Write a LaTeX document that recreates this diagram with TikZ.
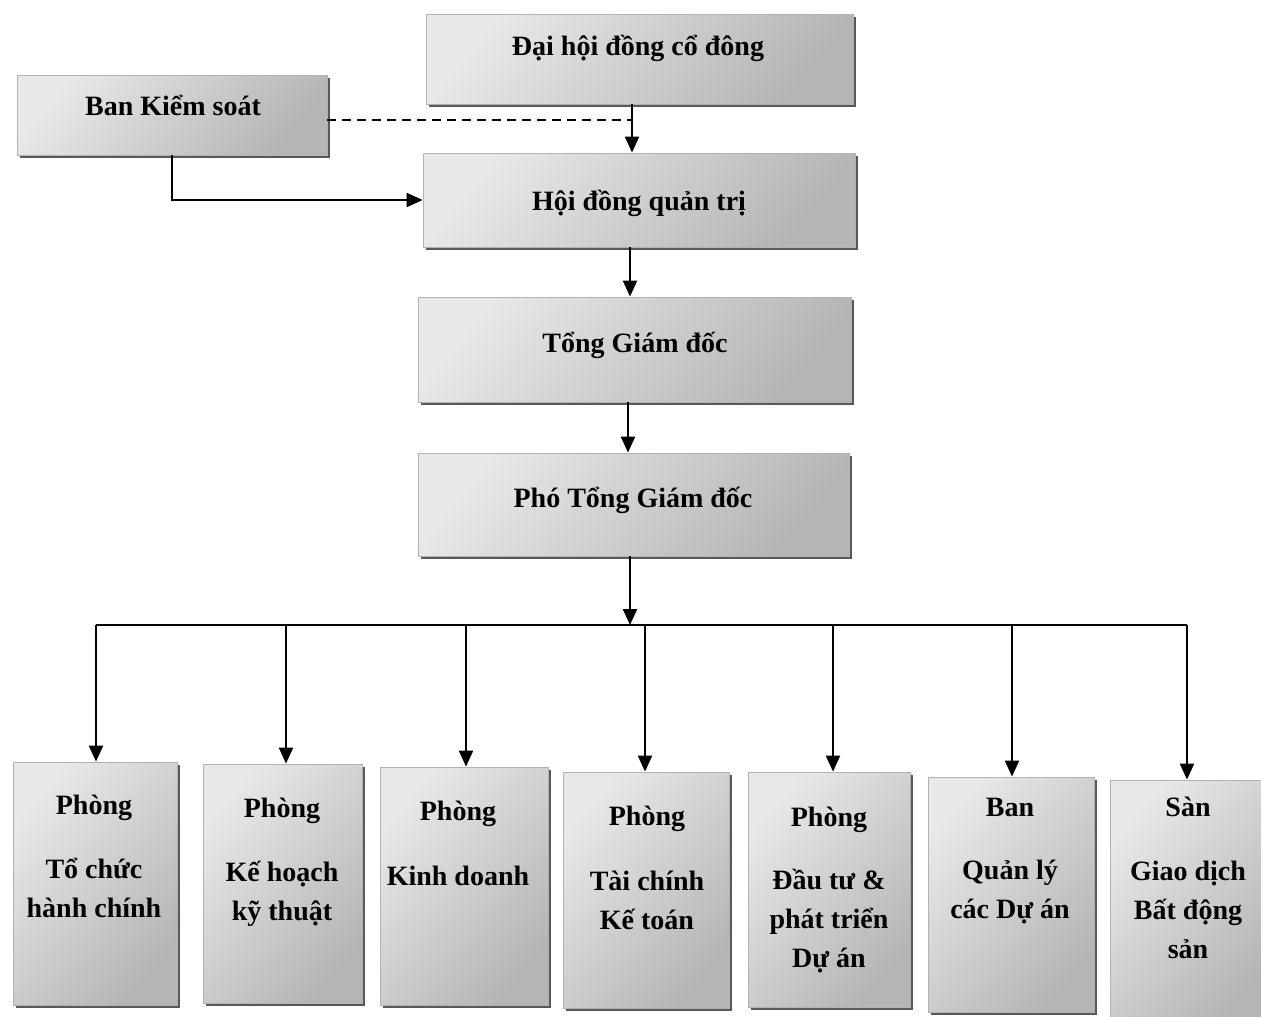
\documentclass[tikz,border=0pt]{standalone}
\usepackage{fontspec}
\setmainfont{Liberation Serif}
\usetikzlibrary{arrows.meta,shadows}
\begin{document}
\begin{tikzpicture}[x=1pt,y=1pt,
  box/.style={draw=gray!60, line width=0.8pt, top color=gray!18, bottom color=gray!58, shading angle=50,
    drop shadow={shadow xshift=3pt,shadow yshift=-3pt,fill=black!65,opacity=1}, inner sep=0pt},
  lbl/.style={font=\fontsize{28}{39}\selectfont\bfseries, align=center, anchor=base, inner sep=0pt},
  conn/.style={line width=2.2pt, black},
  arr/.style={conn, -{Triangle[width=14pt,length=16pt]}},
  dsh/.style={conn, line width=1.8pt, dash pattern=on 9pt off 6pt},
]
\useasboundingbox (0,0) rectangle (1261,-1017);

% top boxes
\node[box, minimum width=427pt, minimum height=90pt] (dh) at (639.5,-59) {};
\node[box, minimum width=310pt, minimum height=80pt] (bks) at (172,-115) {};
\node[box, minimum width=432pt, minimum height=94pt] (hd) at (639,-200) {};
\node[box, minimum width=433pt, minimum height=105pt] (tg) at (634.5,-349.5) {};
\node[box, minimum width=431pt, minimum height=103pt] (ptg) at (633.5,-504.5) {};

\node[lbl] (tdh) at (638,-55) {Đại hội đồng cổ đông};
\node[lbl] (tbks) at (173,-115) {Ban Kiểm soát};
\node[lbl] (thd) at (639,-210) {Hội đồng quản trị};
\node[lbl] (ttg) at (635,-352) {Tổng Giám đốc};
\node[lbl] (tptg) at (633,-507) {Phó Tổng Giám đốc};

% bottom boxes
\node[box, minimum width=164pt, minimum height=243pt] (b1) at (95,-883.5) {};
\node[box, minimum width=159pt, minimum height=239pt] (b2) at (282.5,-883.5) {};
\node[box, minimum width=168pt, minimum height=238pt] (b3) at (464,-886) {};
\node[box, minimum width=166pt, minimum height=236pt] (b4) at (646,-890) {};
\node[box, minimum width=162pt, minimum height=235pt] (b5) at (829,-889.5) {};
\node[box, minimum width=166pt, minimum height=235pt] (b6) at (1011,-894.5) {};
\node[box, minimum width=164pt, minimum height=240pt] (b7) at (1192,-900) {};

% anchor=base is the baseline of the last line
\node[lbl] (t1) at (94,-917) {Phòng\\[25pt]Tổ chức\\hành chính};
\node[lbl] (t2) at (282,-920) {Phòng\\[25pt]Kế hoạch\\kỹ thuật};
\node[lbl] (t3) at (458,-885) {Phòng\\[26pt]Kinh doanh};
\node[lbl] (t4) at (647,-929) {Phòng\\[26pt]Tài chính\\Kế toán};
\node[lbl] (t5) at (829,-967) {Phòng\\[24pt]Đầu tư \&\\phát triển\\Dự án};
\node[lbl] (t6) at (1010,-918) {Ban\\[24pt]Quản lý\\các Dự án};
\node[lbl] (t7) at (1188,-958) {Sàn\\[25pt]Giao dịch\\Bất động\\sản};

% connectors
\coordinate (xa) at (632,0);
\coordinate (jd) at (632,-120);
\coordinate (xb) at (172,0);
\coordinate (xc) at (630,0);
\coordinate (xd) at (628,0);
\coordinate (bus) at (630,-625);
\coordinate (bl) at (96,-625);
\coordinate (br) at (1187,-625);

\draw[arr] (dh.south -| xa) -- (hd.north -| xa);
\draw[dsh] (bks.east |- jd) -- (jd);
\draw[arr] (bks.south -| xb) |- (hd.west);
\draw[arr] (hd.south -| xc) -- (tg.north -| xc);
\draw[arr] (tg.south -| xd) -- (ptg.north -| xd);
\draw[arr] (ptg.south -| xc) -- (bus);
\draw[conn] (bl) -- (br);

\foreach \n/\x in {1/96,2/286,3/466,4/645,5/833,6/1012,7/1187}{
  \draw[arr] (\x,-625) -- (b\n.north -| \x,0);
}
\end{tikzpicture}
\end{document}
